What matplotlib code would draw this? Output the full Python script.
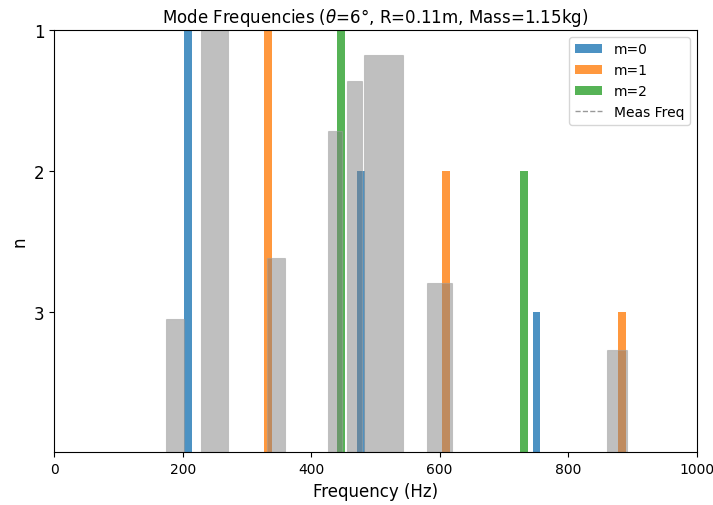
import matplotlib
matplotlib.use("Agg")
from matplotlib import pyplot as plt
from matplotlib.lines import Line2D

# predicted mode frequencies (Hz) for n = 1, 2, 3
m0_freq = [208, 478, 751]
m0_n = [1, 2, 3]
m1_freq = [333, 610, 884]
m1_n = [1, 2, 3]
m2_freq = [446, 731]
m2_n = [1, 2]

# measured peaks: centre, spread and level
meas_freq = [188, 250, 345, 437, 467, 512, 600, 876]
meas_width = [28, 42, 28, 22, 23, 61, 39, 31]
meas_n = [3.05, 0.9, 2.62, 1.72, 1.36, 1.18, 2.80, 3.27]

n_bottom = 4
bar_w = 12

fig, ax = plt.subplots(figsize=(7.13, 5.06), dpi=100)

for freqs, ns, color, label in ((m0_freq, m0_n, 'tab:blue', 'm=0'),
                                (m1_freq, m1_n, 'tab:orange', 'm=1'),
                                (m2_freq, m2_n, 'tab:green', 'm=2')):
    heights = [n_bottom - n for n in ns]
    ax.bar(freqs, heights, width=bar_w, bottom=ns, color=color, alpha=0.8, label=label)

heights = [n_bottom - n for n in meas_n]
ax.bar(meas_freq, heights, width=meas_width, bottom=meas_n, color='gray', alpha=0.5,
       edgecolor='#a0a0a0', linewidth=0.8)

ax.set_xlim(0, 1000)
ax.set_ylim(n_bottom, 1)
ax.set_yticks([1, 2, 3])
ax.tick_params(axis='y', labelsize=12)
ax.set_xlabel('Frequency (Hz)', fontsize=12)
ax.set_ylabel('n', fontsize=12)
ax.set_title(r'Mode Frequencies ($\theta$=6°, R=0.11m, Mass=1.15kg)', fontsize=12)

handles, labels = ax.get_legend_handles_labels()
handles.append(Line2D([0], [0], color='gray', linestyle='--', linewidth=1, alpha=0.8))
labels.append('Meas Freq')
ax.legend(handles, labels, loc='upper right')

plt.subplots_adjust(left=0.076, right=0.977, top=0.939, bottom=0.104)
plt.savefig('out.png', dpi=100)
